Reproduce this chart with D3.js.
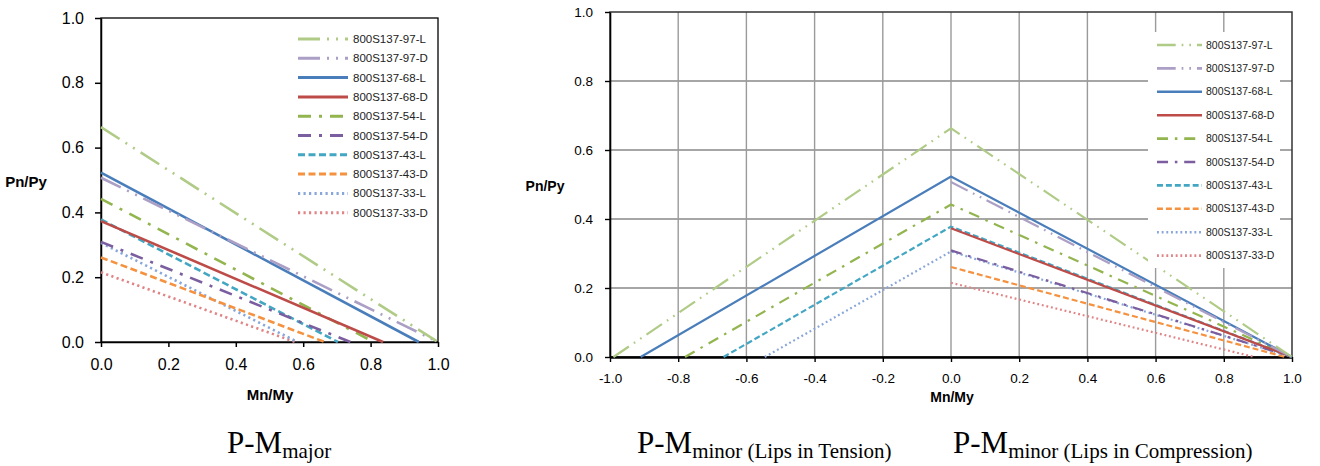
<!DOCTYPE html>
<html>
<head>
<meta charset="utf-8">
<script src="https://cdn.jsdelivr.net/npm/d3@7"></script>
<style>
body { margin: 0; background: #fff; }
svg { display: block; }
.tick text { font-family: "Liberation Sans", Arial, sans-serif; fill: #000; }
.axis-title { font-family: "Liberation Sans", Arial, sans-serif; font-weight: bold; }
.legend text { font-family: "Liberation Sans", Arial, sans-serif; fill: #222; }
.caption { font-family: "Liberation Serif", "Times New Roman", serif; fill: #000; }
</style>
</head>
<body>
<div id="chart-holder"></div>
<script>
// series, in legend order
var seriesNames = ["800S137-97-L", "800S137-97-D", "800S137-68-L", "800S137-68-D", "800S137-54-L",
                   "800S137-54-D", "800S137-43-L", "800S137-43-D", "800S137-33-L", "800S137-33-D"]

// Pn/Py at Mn/My = 0 (pure axial)
var pnAxial = [0.663, 0.507, 0.523, 0.373, 0.442, 0.309, 0.378, 0.261, 0.306, 0.215]

// Mn/My at Pn/Py = 0, major axis
var mnMajor = [1.0, 1.0, 0.943, 0.837, 0.809, 0.74, 0.703, 0.664, 0.583, 0.576]

// Mn/My at Pn/Py = 0, minor axis (lips in tension: negative side, only for L)
var mnMinorTension = [-0.99, null, -0.91, null, -0.78, null, -0.667, null, -0.546, null]
var mnMinorCompression = [1.0, 1.0, 1.0, 1.0, 1.0, 1.0, 1.0, 0.98, 1.0, 0.89]

// tick labels
var majorXTicks = [0.0, 0.2, 0.4, 0.6, 0.8, 1.0]
var minorXTicks = [-1.0, -0.8, -0.6, -0.4, -0.2, 0.0, 0.2, 0.4, 0.6, 0.8, 1.0]
var yTicks = [0.0, 0.2, 0.4, 0.6, 0.8, 1.0]

// line styles per series
var styles = {
    "800S137-97-L": { color: "#afcb86", dash: [22, 7, 2, 7, 2, 7] },
    "800S137-97-D": { color: "#ac9fc5", dash: [22, 7, 2, 7, 2, 7] },
    "800S137-68-L": { color: "#4a7ebb", dash: null },
    "800S137-68-D": { color: "#bd4b48", dash: null },
    "800S137-54-L": { color: "#93b54f", dash: [13, 8, 3, 8] },
    "800S137-54-D": { color: "#7b5e9f", dash: [13, 8, 3, 8] },
    "800S137-43-L": { color: "#43a6c2", dash: [7, 3.5] },
    "800S137-43-D": { color: "#f59240", dash: [7, 3.5] },
    "800S137-33-L": { color: "#88a6da", dash: [2.2, 3.3] },
    "800S137-33-D": { color: "#e08486", dash: [2.2, 3.3] }
}

function fmt (d) {
    return d.toFixed(1)
}

function dashOf (name, k) {
    var d = styles[name].dash
    return d ? d.map(v => v * k).join(",") : null
}

var svg = d3.select("#chart-holder")
    .append("svg")
    .attr("width", 1320)
    .attr("height", 466)

svg.append("rect")
    .attr("width", 1320)
    .attr("height", 466)
    .attr("fill", "#fff")

var line = d3.line()

// ---------- P-M major ----------
var xMaj = d3.scaleLinear().domain([0, 1]).range([101, 438])
var yMaj = d3.scaleLinear().domain([0, 1]).range([342, 18])

var gMaj = svg.append("g").attr("class", "major")

gMaj.append("rect")
    .attr("x", xMaj(0))
    .attr("y", yMaj(1))
    .attr("width", xMaj(1) - xMaj(0))
    .attr("height", yMaj(0) - yMaj(1))
    .attr("fill", "none")
    .attr("stroke", "#000")
    .attr("stroke-width", 1.3)

gMaj.append("g")
    .attr("transform", `translate(0,${yMaj(0)})`)
    .call(d3.axisBottom(xMaj).tickValues(majorXTicks).tickFormat(fmt).tickSize(5).tickPadding(12).tickSizeOuter(0))
    .call(g => g.selectAll("text").attr("font-size", 16))

gMaj.append("g")
    .attr("transform", `translate(${xMaj(0)},0)`)
    .call(d3.axisLeft(yMaj).tickValues(yTicks).tickFormat(fmt).tickSize(6).tickPadding(11).tickSizeOuter(0))
    .call(g => g.selectAll("text").attr("font-size", 16))

gMaj.selectAll(".domain, .tick line").attr("stroke", "#000").attr("stroke-width", 1.5)

gMaj.selectAll("path.series")
    .data(seriesNames.slice().reverse())
    .enter()
    .append("path")
    .attr("class", "series")
    .attr("fill", "none")
    .attr("stroke", d => styles[d].color)
    .attr("stroke-width", 2.6)
    .attr("stroke-dasharray", d => dashOf(d, 1))
    .attr("d", d => {
        var i = seriesNames.indexOf(d)
        return line([[xMaj(0), yMaj(pnAxial[i])], [xMaj(mnMajor[i]), yMaj(0)]])
    })

gMaj.append("text")
    .attr("class", "axis-title")
    .attr("x", 26).attr("y", 187)
    .attr("text-anchor", "middle")
    .attr("font-size", 15)
    .text("Pn/Py")

gMaj.append("text")
    .attr("class", "axis-title")
    .attr("x", 270).attr("y", 400)
    .attr("text-anchor", "middle")
    .attr("font-size", 15)
    .text("Mn/My")

var legMaj = gMaj.append("g").attr("class", "legend")
    .selectAll("g")
    .data(seriesNames)
    .enter()
    .append("g")
    .attr("transform", (d, i) => `translate(298,${39 + i * 19.3})`)

legMaj.append("line")
    .attr("x1", 0).attr("x2", 50)
    .attr("stroke", d => styles[d].color)
    .attr("stroke-width", 3)
    .attr("stroke-dasharray", d => dashOf(d, 1))

legMaj.append("text")
    .attr("x", 55).attr("dy", "0.35em")
    .attr("font-size", 11.5)
    .text(d => d)

// ---------- P-M minor ----------
var xMin = d3.scaleLinear().domain([-1, 1]).range([610, 1292])
var yMin = d3.scaleLinear().domain([0, 1]).range([357, 12])

var gMin = svg.append("g").attr("class", "minor")

// gridlines
gMin.selectAll("line.hgrid")
    .data(yTicks.filter(d => d > 0 && d < 1))
    .enter()
    .append("line")
    .attr("class", "hgrid")
    .attr("x1", xMin(-1)).attr("x2", xMin(1))
    .attr("y1", d => yMin(d)).attr("y2", d => yMin(d))
    .attr("stroke", "#a6a6a6")
    .attr("stroke-width", 2)

gMin.selectAll("line.vgrid")
    .data(minorXTicks.filter(d => d > -1 && d < 1))
    .enter()
    .append("line")
    .attr("class", "vgrid")
    .attr("x1", d => xMin(d)).attr("x2", d => xMin(d))
    .attr("y1", yMin(0)).attr("y2", yMin(1))
    .attr("stroke", "#9a9a9a")
    .attr("stroke-width", 1.4)

gMin.append("rect")
    .attr("x", xMin(-1))
    .attr("y", yMin(1))
    .attr("width", xMin(1) - xMin(-1))
    .attr("height", yMin(0) - yMin(1))
    .attr("fill", "none")
    .attr("stroke", "#333")
    .attr("stroke-width", 1.5)

gMin.append("g")
    .attr("transform", `translate(0,${yMin(0)})`)
    .call(d3.axisBottom(xMin).tickValues(minorXTicks).tickFormat(fmt).tickSize(5).tickPadding(11).tickSizeOuter(0))
    .call(g => g.selectAll("text").attr("font-size", 13.5))
    .call(g => g.select(".domain").attr("stroke-width", 2.6))

gMin.append("g")
    .attr("transform", `translate(${xMin(-1)},0)`)
    .call(d3.axisLeft(yMin).tickValues(yTicks).tickFormat(fmt).tickSize(5).tickPadding(12).tickSizeOuter(0))
    .call(g => g.selectAll("text").attr("font-size", 13.5))
    .call(g => g.select(".domain").attr("stroke-width", 1.6))

gMin.selectAll(".domain").attr("stroke", "#000")
gMin.selectAll(".tick line").attr("stroke", "#000").attr("stroke-width", 1.4)

gMin.selectAll("path.series")
    .data(seriesNames.slice().reverse())
    .enter()
    .append("path")
    .attr("class", "series")
    .attr("fill", "none")
    .attr("stroke", d => styles[d].color)
    .attr("stroke-width", 2.2)
    .attr("stroke-dasharray", d => dashOf(d, 0.85))
    .attr("d", d => {
        var i = seriesNames.indexOf(d)
        var pts = []
        if (mnMinorTension[i] != null) pts.push([xMin(mnMinorTension[i]), yMin(0)])
        pts.push([xMin(0), yMin(pnAxial[i])])
        pts.push([xMin(mnMinorCompression[i]), yMin(0)])
        return line(pts)
    })

gMin.append("text")
    .attr("class", "axis-title")
    .attr("x", 545).attr("y", 191)
    .attr("text-anchor", "middle")
    .attr("font-size", 14)
    .text("Pn/Py")

gMin.append("text")
    .attr("class", "axis-title")
    .attr("x", 952).attr("y", 402)
    .attr("text-anchor", "middle")
    .attr("font-size", 14)
    .text("Mn/My")

var legMinBox = gMin.append("g").attr("class", "legend")

legMinBox.append("rect")
    .attr("x", 1148).attr("y", 32)
    .attr("width", 132).attr("height", 236)
    .attr("fill", "#fff")

var legMin = legMinBox.selectAll("g")
    .data(seriesNames)
    .enter()
    .append("g")
    .attr("transform", (d, i) => `translate(1157,${45 + i * 23.4})`)

legMin.append("line")
    .attr("x1", 0).attr("x2", 45)
    .attr("stroke", d => styles[d].color)
    .attr("stroke-width", 2.6)
    .attr("stroke-dasharray", d => dashOf(d, 0.85))

legMin.append("text")
    .attr("x", 49).attr("dy", "0.35em")
    .attr("font-size", 10.5)
    .text(d => d)

// ---------- captions ----------
function caption (x, sub) {
    var t = svg.append("text")
        .attr("class", "caption")
        .attr("x", x).attr("y", 453)
    t.append("tspan").attr("font-size", 31).text("P-M")
    t.append("tspan").attr("font-size", 21).attr("dy", 5).text(sub)
}

caption(227, "major")
caption(637, "minor (Lips in Tension)")
caption(953, "minor (Lips in Compression)")
</script>
</body>
</html>
